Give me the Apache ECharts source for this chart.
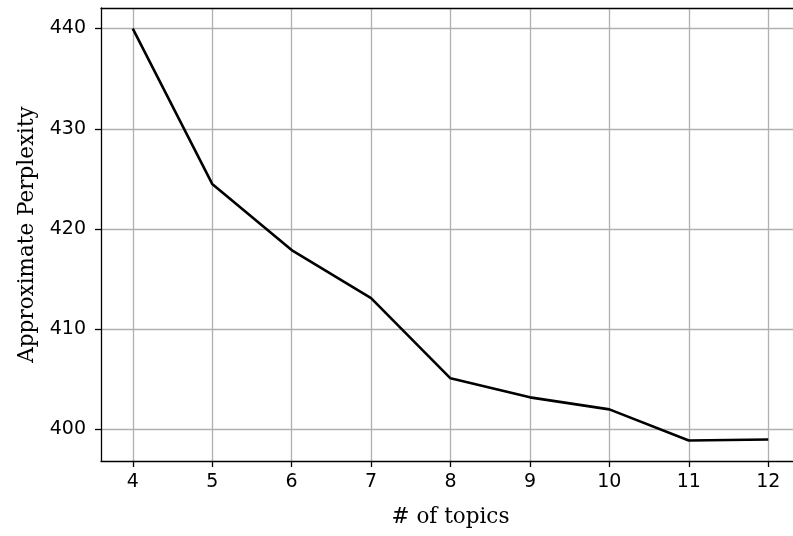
<!DOCTYPE html>
<html><head><meta charset="utf-8">
<script src="https://cdn.jsdelivr.net/npm/echarts@6/dist/echarts.min.js"></script>
<style>html,body{margin:0;padding:0;background:#fff}#c{width:793px;height:536px}</style>
</head><body><div id="c"></div>
<script>
const topics = [4, 5, 6, 7, 8, 9, 10, 11, 12];
const perplexity = [440.0, 424.5, 417.9, 413.1, 405.1, 403.2, 402.0, 398.9, 399.0];
const xTicks = [4, 5, 6, 7, 8, 9, 10, 11, 12];
const yTicks = [400, 410, 420, 430, 440];

const chart = echarts.init(document.getElementById('c'), null, {renderer: 'canvas'});
const tickFont = {fontFamily: 'DejaVu Sans', fontSize: 19, color: '#000'};
chart.setOption({
  animation: false,
  grid: {left: 101, top: 8, width: 699, height: 453, outerBoundsMode: 'none', containLabel: false, show: false},
  xAxis: [{
    type: 'value', min: 3.6, max: 12.4,
    name: '# of topics', nameLocation: 'middle', nameGap: 45,
    nameTextStyle: {fontFamily: 'DejaVu Serif', fontSize: 21.5, color: '#000'},
    axisLine: {show: true, lineStyle: {color: '#000', width: 1.3}},
    axisTick: {show: true, length: 6, lineStyle: {color: '#000', width: 1.3}, customValues: xTicks},
    axisLabel: Object.assign({customValues: xTicks, margin: 12}, tickFont),
    splitLine: {show: true, lineStyle: {color: '#b0b0b0', width: 1.3}}
  }, {
    type: 'value', min: 3.6, max: 12.4, position: 'top',
    axisLine: {show: true, onZero: false, lineStyle: {color: '#000', width: 1.3}},
    axisTick: {show: false}, axisLabel: {show: false}, splitLine: {show: false}
  }],
  yAxis: {
    type: 'value', min: 396.85, max: 442.05,
    name: 'Approximate Perplexity', nameLocation: 'middle', nameGap: 63,
    nameTextStyle: {fontFamily: 'DejaVu Serif', fontSize: 21.5, color: '#000'},
    axisLine: {show: true, lineStyle: {color: '#000', width: 1.3}},
    axisTick: {show: true, length: 6, lineStyle: {color: '#000', width: 1.3}, customValues: yTicks},
    axisLabel: Object.assign({customValues: yTicks, margin: 15}, tickFont),
    splitLine: {show: true, lineStyle: {color: '#b0b0b0', width: 1.3}}
  },
  series: [{
    type: 'line',
    data: topics.map((t, i) => [t, perplexity[i]]),
    showSymbol: false,
    lineStyle: {color: '#000', width: 2.6},
    z: 5
  }]
});
</script></body></html>
